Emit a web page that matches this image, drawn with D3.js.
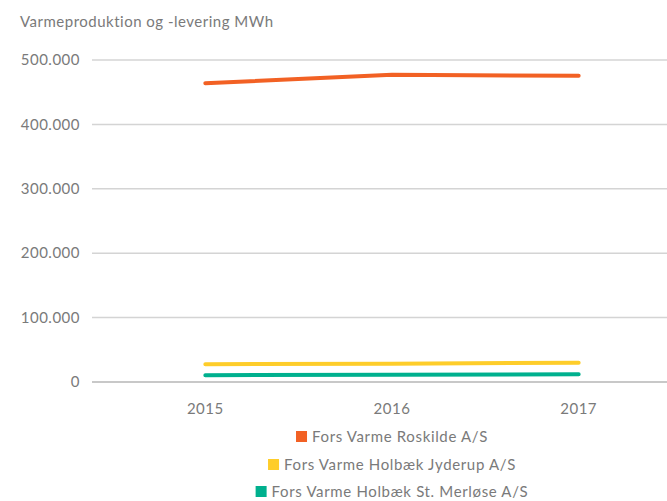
<!DOCTYPE html>
<html><head><meta charset="utf-8">
<script src="https://cdn.jsdelivr.net/npm/d3@7"></script>
<style>body{margin:0;background:#fff}svg{display:block}text{font-family:Lato,"Open Sans",sans-serif;fill:#7a7a7a;letter-spacing:0.5px}</style>
</head><body><svg id="c" width="667" height="501"></svg>
<script>
const years = ["2015","2016","2017"];
const seriesNames = ["Fors Varme Roskilde A/S","Fors Varme Holbæk Jyderup A/S","Fors Varme Holbæk St. Merløse A/S"];
const roskilde = [464000, 477000, 475500];
const jyderup = [27500, 28500, 30000];
const merlose = [10500, 11200, 12000];
const colors = ["#f26124","#fecd2a","#00b08e"];
const yTicks = [0,100000,200000,300000,400000,500000];
const yTickLabels = ["0","100.000","200.000","300.000","400.000","500.000"];
const title = "Varmeproduktion og -levering MWh";

const svg = d3.select("#c");
const W = 667;
const x = d3.scaleBand().domain(years).range([112, 672]);
const y = d3.scaleLinear().domain([0,500000]).range([382,60]);
const gridX0 = 92;

svg.append("text").attr("x",20).attr("y",27).attr("font-size",15).text(title);

const g = svg.append("g");
g.selectAll("line.grid").data(yTicks).join("line")
  .attr("x1",gridX0).attr("x2",W).attr("y1",d=>y(d)).attr("y2",d=>y(d))
  .attr("stroke",d=>d===0?"#c8c8c8":"#d4d4d4").attr("stroke-width",d=>d===0?2:1.5);
g.selectAll("text.yl").data(yTicks).join("text")
  .attr("x",80).attr("y",d=>y(d)).attr("dy","0.35em").attr("text-anchor","end")
  .attr("font-size",15).text((d,i)=>yTickLabels[i]);
g.selectAll("text.xl").data(years).join("text")
  .attr("x",d=>x(d)+x.bandwidth()/2).attr("y",414).attr("text-anchor","middle")
  .attr("font-size",15).text(d=>d);

const data = [roskilde, jyderup, merlose];
const line = d3.line().x((d,i)=>x(years[i])+x.bandwidth()/2).y(d=>y(d));
svg.selectAll("path.s").data(data).join("path")
  .attr("d",line).attr("fill","none").attr("stroke",(d,i)=>colors[i])
  .attr("stroke-width",4).attr("stroke-linecap","round").attr("stroke-linejoin","round");

const cx = x("2016")+x.bandwidth()/2;
const rowsY = [437,465,492];
seriesNames.forEach((n,i)=>{
  const gg = svg.append("g");
  const t = gg.append("text").attr("x",16).attr("y",rowsY[i]).attr("dy","0.35em").attr("font-size",15)
    .style("letter-spacing","0.65px").text(n);
  const tw = t.node().getComputedTextLength();
  gg.append("rect").attr("x",0).attr("y",rowsY[i]-6).attr("width",11).attr("height",11).attr("fill",colors[i]);
  const total = 16+tw;
  gg.attr("transform",`translate(${cx-total/2},0)`);
});
</script></body></html>
